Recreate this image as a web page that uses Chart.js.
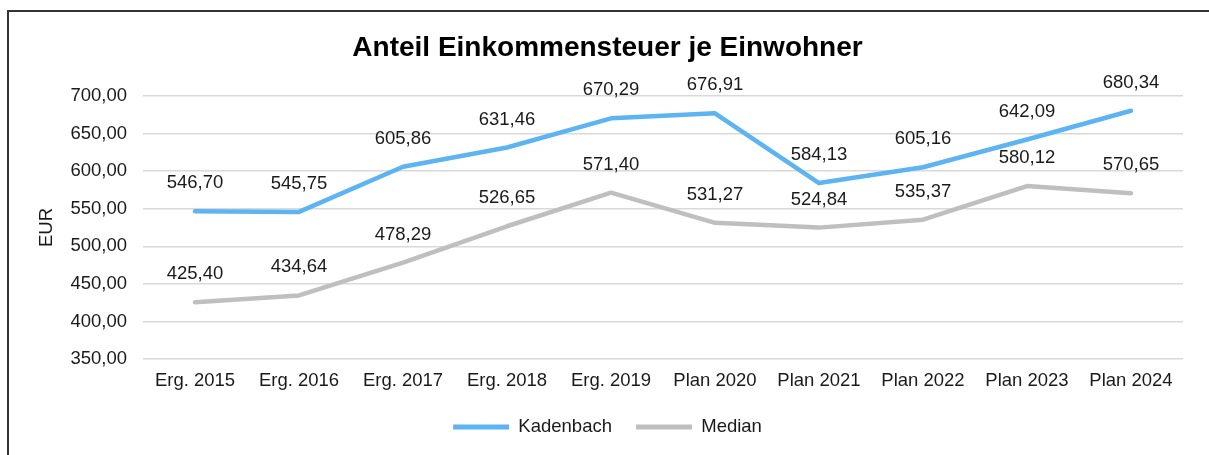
<!DOCTYPE html>
<html>
<head>
<meta charset="utf-8">
<script src="https://cdn.jsdelivr.net/npm/chart.js@4/dist/chart.umd.min.js"></script>
<style>
    body { margin: 0; background: #fff; overflow: hidden; }
    #frame { position: absolute; left: 7px; top: 10px; width: 1400px; height: 600px;
             border-left: 2px solid #333; border-top: 2px solid #333; }
    #chart { position: absolute; left: 0; top: 0; }
</style>
</head>
<body>
<div id="frame"></div>
<canvas id="chart" width="1209" height="455"></canvas>
<script>
const categories = ["Erg. 2015", "Erg. 2016", "Erg. 2017", "Erg. 2018", "Erg. 2019",
    "Plan 2020", "Plan 2021", "Plan 2022", "Plan 2023", "Plan 2024"];
const kadenbach = [546.70, 545.75, 605.86, 631.46, 670.29, 676.91, 584.13, 605.16, 642.09, 680.34];
const median = [425.40, 434.64, 478.29, 526.65, 571.40, 531.27, 524.84, 535.37, 580.12, 570.65];
const yMin = 350;
const yMax = 700;
const yStep = 50;

// Zahlen im deutschen Format
function fmt(v) {
    return v.toFixed(2).replace(".", ",");
}

// Werte über den Punkten
const valueLabels = {
    id: "valueLabels",
    afterDatasetsDraw(chart) {
        const ctx = chart.ctx;
        ctx.save();
        ctx.font = "18.5px 'Liberation Sans', Arial, sans-serif";
        ctx.fillStyle = "#1a1a1a";
        ctx.textAlign = "center";
        ctx.textBaseline = "middle";
        chart.data.datasets.forEach((ds, i) => {
            chart.getDatasetMeta(i).data.forEach((pt, j) => {
                ctx.fillText(fmt(ds.data[j]), pt.x, pt.y - 28);
            });
        });
        ctx.restore();
    }
};

Chart.defaults.font.family = "'Liberation Sans', Arial, sans-serif";
Chart.defaults.color = "#1a1a1a";

new Chart(document.getElementById("chart"), {
    type: "line",
    data: {
        labels: categories,
        datasets: [
            {
                label: "Kadenbach",
                data: kadenbach,
                borderColor: "#5DB4F2",
                backgroundColor: "#5DB4F2",
                borderWidth: 4.5,
                pointRadius: 0,
                borderCapStyle: "round",
                borderJoinStyle: "round"
            },
            {
                label: "Median",
                data: median,
                borderColor: "#BFBFBF",
                backgroundColor: "#BFBFBF",
                borderWidth: 4.5,
                pointRadius: 0,
                borderCapStyle: "round",
                borderJoinStyle: "round"
            }
        ]
    },
    options: {
        responsive: false,
        animation: false,
        devicePixelRatio: 1,
        layout: { padding: { left: 32, right: 26, top: 0, bottom: 8.75 } },
        plugins: {
            title: {
                display: true,
                text: "Anteil Einkommensteuer je Einwohner",
                font: { size: 28, weight: "bold" },
                color: "#000",
                padding: { top: 31.2, bottom: 31.2 }
            },
            legend: {
                position: "bottom",
                labels: {
                    boxWidth: 56,
                    boxHeight: 5,
                    padding: 24,
                    font: { size: 18.5 },
                    generateLabels: function (chart) {
                        const items = Chart.defaults.plugins.legend.labels.generateLabels(chart);
                        items.forEach(it => { it.lineWidth = 0; });
                        return items;
                    }
                }
            },
            tooltip: { enabled: false }
        },
        scales: {
            x: {
                offset: true,
                grid: { display: false, drawTicks: false },
                border: { display: false },
                ticks: { padding: 11, font: { size: 18.5 }, maxRotation: 0 },
                afterFit: function (s) { s.height = 34.75; }
            },
            y: {
                min: yMin,
                max: yMax,
                grid: { color: "#D9D9D9", lineWidth: 1.5, drawTicks: false },
                border: { display: false },
                ticks: {
                    stepSize: yStep,
                    padding: 16,
                    font: { size: 18.5 },
                    callback: v => fmt(v)
                },
                title: {
                    display: true,
                    text: "EUR",
                    font: { size: 18.5 },
                    padding: { top: 4, bottom: 4 }
                },
                afterFit: function (s) { s.width = 111; }
            }
        }
    },
    plugins: [valueLabels]
});
</script>
</body>
</html>
